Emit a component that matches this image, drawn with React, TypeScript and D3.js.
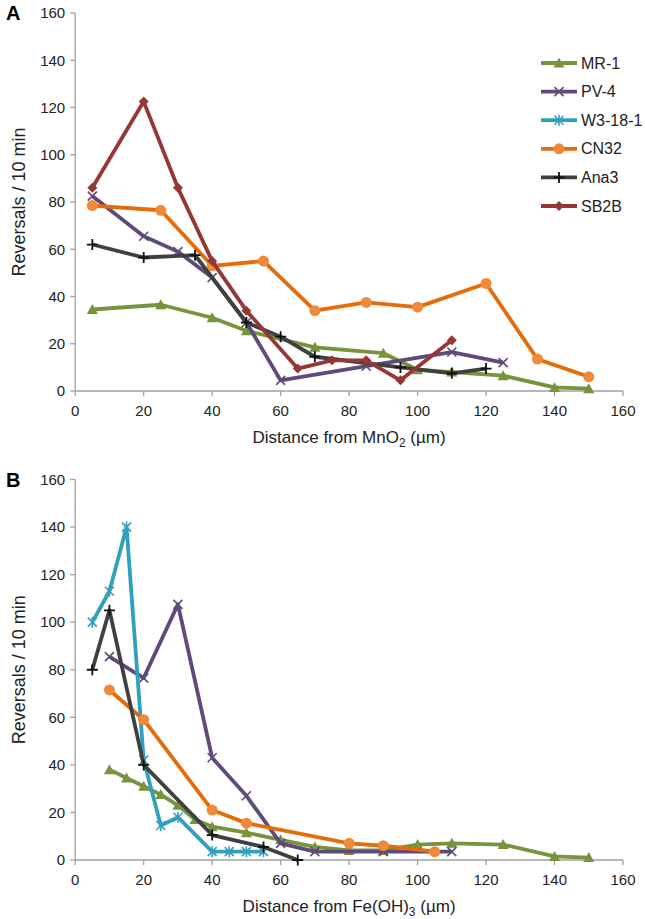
import React from "react";
import * as d3 from "d3";

// ---------- data ----------
const seriesNames = ["MR-1", "PV-4", "W3-18-1", "CN32", "Ana3", "SB2B"];
const xTicks = [0, 20, 40, 60, 80, 100, 120, 140, 160];
const yTicks = [0, 20, 40, 60, 80, 100, 120, 140, 160];

// Panel A (MnO2)
const mr1A: [number, number][] = [[5, 34.5], [25, 36.5], [40, 31], [50, 25.5], [70, 18.5], [90, 16], [100, 9], [110, 8], [125, 6.5], [140, 1.5], [150, 1]];
const pv4A: [number, number][] = [[5, 82.5], [20, 65.5], [30, 59], [40, 48], [50, 29], [60, 4.5], [85, 10.5], [110, 16.5], [125, 12]];
const w318A: [number, number][] = [];
const cn32A: [number, number][] = [[5, 78.5], [25, 76.5], [40, 53], [55, 55], [70, 34], [85, 37.5], [100, 35.5], [120, 45.5], [135, 13.5], [150, 6]];
const ana3A: [number, number][] = [[5, 62], [20, 56.5], [35, 57.5], [50, 29], [60, 23], [70, 14.5], [95, 10], [110, 7.5], [120, 9.5]];
const sb2bA: [number, number][] = [[5, 86], [20, 122.5], [30, 86], [40, 55], [50, 34], [65, 9.5], [75, 13], [85, 13], [95, 4.5], [110, 21.5]];

// Panel B (Fe(OH)3)
const mr1B: [number, number][] = [[10, 38], [15, 34.5], [20, 31], [25, 27.5], [30, 23], [35, 17], [40, 14], [50, 11.5], [60, 8.5], [70, 5.5], [80, 4], [90, 4], [100, 6.5], [110, 7], [125, 6.5], [140, 1.5], [150, 1]];
const pv4B: [number, number][] = [[10, 85.5], [20, 76.5], [30, 107.5], [40, 43], [50, 27], [60, 7], [70, 3.5], [90, 3.5], [110, 3.5]];
const w318B: [number, number][] = [[5, 100], [10, 113], [15, 140], [20, 42], [25, 14.5], [30, 18], [40, 3.5], [45, 3.5], [50, 3.5], [55, 3.5]];
const cn32B: [number, number][] = [[10, 71.5], [20, 59], [40, 21], [50, 15.5], [80, 7], [90, 6], [105, 3.5]];
const ana3B: [number, number][] = [[5, 80], [10, 105], [20, 40], [40, 10.5], [55, 5.5], [65, 0]];
const sb2bB: [number, number][] = [];

// ---------- styles ----------
const lineColors = ["#77933C", "#604A7B", "#31A0BE", "#E46C0A", "#404040", "#953735"];
const markerColors = ["#77933C", "#604A7B", "#31A0BE", "#EE8A3A", "#111111", "#953735"];
const markerTypes = ["triangle", "x", "star", "circle", "plus", "diamond"];
const FONT = "'Liberation Sans', Arial, sans-serif";

function Marker({ type, color, x, y }: { type: string; color: string; x: number; y: number }) {
  const t = `translate(${x},${y})`;
  if (type === "triangle") return <path transform={t} d="M0,-5.5L5.5,4.5L-5.5,4.5Z" fill={color} />;
  if (type === "circle") return <circle cx={x} cy={y} r={5.5} fill={color} />;
  if (type === "diamond") return <path transform={t} d="M0,-5L5,0L0,5L-5,0Z" fill={color} />;
  if (type === "x") return <path transform={t} d="M-4.5,-4.5L4.5,4.5M4.5,-4.5L-4.5,4.5" stroke={color} strokeWidth={1.6} fill="none" />;
  if (type === "plus") return <path transform={t} d="M-5.5,0L5.5,0M0,-5.5L0,5.5" stroke={color} strokeWidth={1.8} fill="none" />;
  return <path transform={t} d="M-4.5,-4.5L4.5,4.5M4.5,-4.5L-4.5,4.5M0,-5.5L0,5.5" stroke={color} strokeWidth={1.6} fill="none" />;
}

function Panel({ data, top, bottom, letter, title }: { data: [number, number][][]; top: number; bottom: number; letter: string; title: React.ReactNode }) {
  const x = d3.scaleLinear().domain([0, 160]).range([75.2, 623]);
  const y = d3.scaleLinear().domain([0, 160]).range([bottom, top]);
  const line = d3.line<[number, number]>().x((d) => x(d[0])).y((d) => y(d[1]));
  const axisColor = "#A0A0A0";
  const midY = (top + bottom) / 2;
  return (
    <g>
      <text x={6} y={top + 7} fontFamily={FONT} fontWeight="bold" fontSize={20} fill="#000">{letter}</text>
      <line x1={x(0)} x2={x(0)} y1={y(0)} y2={y(160)} stroke={axisColor} strokeWidth={1.3} />
      {yTicks.map((t) => (
        <g key={"y" + t}>
          <line x1={x(0) - 5} x2={x(0)} y1={y(t)} y2={y(t)} stroke={axisColor} strokeWidth={1.3} />
          <text x={x(0) - 10} y={y(t)} dy="0.35em" textAnchor="end" fontFamily={FONT} fontSize={15} fill="#222">{t}</text>
        </g>
      ))}
      <line x1={x(0)} x2={x(160)} y1={y(0)} y2={y(0)} stroke={axisColor} strokeWidth={1.3} />
      {xTicks.map((t) => (
        <g key={"x" + t}>
          <line x1={x(t)} x2={x(t)} y1={y(0)} y2={y(0) + 5} stroke={axisColor} strokeWidth={1.3} />
          <text x={x(t)} y={y(0) + 20} dy="0.35em" textAnchor="middle" fontFamily={FONT} fontSize={15} fill="#222">{t}</text>
        </g>
      ))}
      <text x={(x(0) + x(160)) / 2} y={y(0) + 52} textAnchor="middle" fontFamily={FONT} fontSize={17} fill="#222">{title}</text>
      <text transform={`translate(25,${midY}) rotate(-90)`} textAnchor="middle" fontFamily={FONT} fontSize={18} fill="#222">Reversals / 10 min</text>
      {data.map((s, i) =>
        s.length ? (
          <g key={"s" + i}>
            <path d={line(s) || ""} fill="none" stroke={lineColors[i]} strokeWidth={3.8} strokeLinejoin="round" />
            {s.map((d, j) => (
              <Marker key={j} type={markerTypes[i]} color={markerColors[i]} x={x(d[0])} y={y(d[1])} />
            ))}
          </g>
        ) : null
      )}
    </g>
  );
}

function Legend() {
  const ly = d3.scaleLinear().domain([0, 5]).range([63, 206]);
  return (
    <g>
      {seriesNames.map((n, i) => (
        <g key={n}>
          <line x1={541} x2={577} y1={ly(i)} y2={ly(i)} stroke={lineColors[i]} strokeWidth={3.8} />
          <Marker type={markerTypes[i]} color={markerColors[i]} x={559} y={ly(i)} />
          <text x={581} y={ly(i)} dy="0.35em" fontFamily={FONT} fontSize={16} fill="#222">{n}</text>
        </g>
      ))}
    </g>
  );
}

export default function App() {
  const dataA = [mr1A, pv4A, w318A, cn32A, ana3A, sb2bA];
  const dataB = [mr1B, pv4B, w318B, cn32B, ana3B, sb2bB];
  return (
    <svg width={645} height={919} style={{ position: "absolute", left: 0, top: 0, background: "#fff" }}>
      <rect width={645} height={919} fill="#fff" />
      <Panel
        data={dataA}
        top={13}
        bottom={391}
        letter="A"
        title={<>Distance from MnO<tspan fontSize={12} dy={4}>2</tspan><tspan dy={-4}> (µm)</tspan></>}
      />
      <Legend />
      <Panel
        data={dataB}
        top={479.5}
        bottom={860}
        letter="B"
        title={<>Distance from Fe(OH)<tspan fontSize={12} dy={4}>3</tspan><tspan dy={-4}> (µm)</tspan></>}
      />
    </svg>
  );
}
